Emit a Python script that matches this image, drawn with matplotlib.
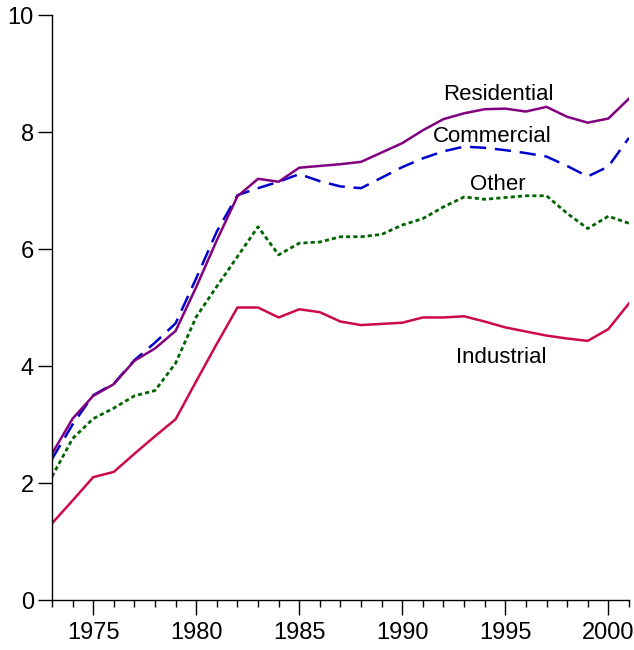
import numpy as np
import matplotlib
matplotlib.use("Agg")
import matplotlib.pyplot as plt
from matplotlib.ticker import MultipleLocator

plt.rcParams['font.family'] = ['Liberation Sans', 'DejaVu Sans']

years = np.arange(1973, 2002)

residential = [2.50, 3.10, 3.49, 3.69, 4.09, 4.30, 4.60, 5.35, 6.15, 6.90,
               7.20, 7.15, 7.39, 7.42, 7.45, 7.49, 7.65, 7.81, 8.03, 8.22,
               8.32, 8.39, 8.40, 8.35, 8.43, 8.26, 8.16, 8.23, 8.57]
commercial = [2.41, 3.00, 3.50, 3.70, 4.10, 4.40, 4.73, 5.50, 6.30, 6.92,
              7.04, 7.15, 7.28, 7.16, 7.07, 7.04, 7.22, 7.40, 7.55, 7.67,
              7.75, 7.73, 7.69, 7.64, 7.58, 7.42, 7.24, 7.41, 7.90]
other = [2.11, 2.76, 3.10, 3.28, 3.49, 3.58, 4.05, 4.84, 5.36, 5.87,
         6.38, 5.90, 6.10, 6.12, 6.21, 6.21, 6.25, 6.41, 6.52, 6.72,
         6.89, 6.85, 6.88, 6.91, 6.91, 6.61, 6.35, 6.56, 6.44]
industrial = [1.31, 1.70, 2.10, 2.19, 2.50, 2.80, 3.09, 3.74, 4.38, 5.00,
              5.00, 4.83, 4.97, 4.92, 4.76, 4.70, 4.72, 4.74, 4.83, 4.83,
              4.85, 4.76, 4.66, 4.59, 4.52, 4.47, 4.43, 4.63, 5.07]

fig = plt.figure(figsize=(6.34, 6.5), dpi=100)
ax = fig.add_axes([0.082, 0.0769, 0.910, 0.900])

ax.plot(years, industrial, color='#cc0a4a', lw=1.8)
ax.plot(years, other, color='#006400', lw=2.0, dashes=(1.5, 1.1))
ax.plot(years, commercial, color='#0000cc', lw=1.8, dashes=(6.5, 3.5))
ax.plot(years, residential, color='#800080', lw=1.8)

ax.text(1994.65, 8.64, 'Residential', fontsize=16, ha='center', va='center')
ax.text(1994.36, 7.93, 'Commercial', fontsize=16, ha='center', va='center')
ax.text(1994.63, 7.11, 'Other', fontsize=16, ha='center', va='center')
ax.text(1994.78, 4.15, 'Industrial', fontsize=16, ha='center', va='center')

ax.set_xlim(1973, 2001)
ax.set_ylim(0, 10)
ax.xaxis.set_major_locator(MultipleLocator(5))
ax.xaxis.set_minor_locator(MultipleLocator(1))
ax.yaxis.set_major_locator(MultipleLocator(2))
ax.tick_params(axis='x', which='major', length=11, width=1, direction='out', labelsize=17, pad=5)
ax.tick_params(axis='x', which='minor', length=5, width=1, direction='out')
ax.tick_params(axis='y', which='major', length=10, width=1, direction='out', labelsize=17, pad=3)
for s in ['top', 'right']:
    ax.spines[s].set_visible(False)
ax.spines['left'].set_linewidth(1)
ax.spines['bottom'].set_linewidth(1)

fig.savefig('out.png', dpi=100)
